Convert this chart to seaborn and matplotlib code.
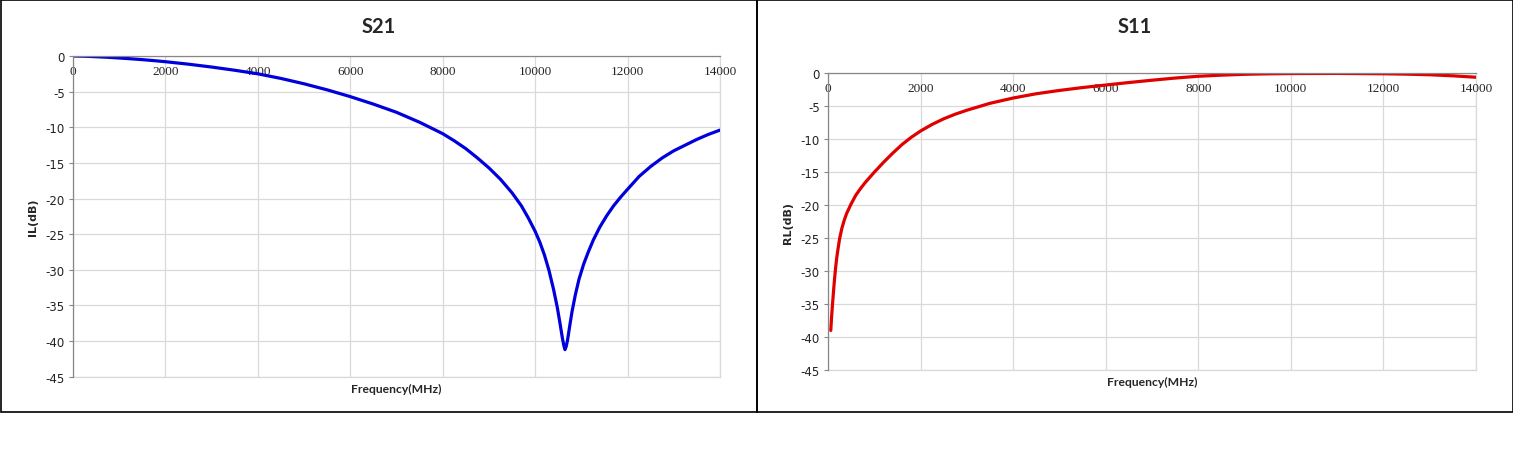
import matplotlib
matplotlib.use("Agg")
import matplotlib.pyplot as plt
import seaborn as sns
import pandas as pd
from matplotlib.patches import Rectangle

# ---- data ----
s21_freq = [0, 250, 500, 750, 1000, 1250, 1500, 1750, 2000, 2500, 3000, 3500, 4000, 4500,
            5000, 5500, 6000, 6500, 7000, 7500, 8000, 8250, 8500, 8750, 9000, 9250, 9500,
            9700, 9850, 10000, 10100, 10200, 10300, 10400, 10480, 10540, 10590, 10620,
            10645, 10670, 10700, 10750, 10800, 10870, 10950, 11050, 11150, 11260, 11400,
            11550, 11700, 11850, 12000, 12250, 12500, 12750, 13000, 13250, 13500, 13750,
            14000]
s21_db = [0, -0.03, -0.1, -0.18, -0.28, -0.39, -0.51, -0.65, -0.8, -1.15, -1.55, -2.0, -2.5,
          -3.15, -3.9, -4.75, -5.7, -6.75, -7.9, -9.3, -10.9, -11.9, -13.0, -14.3, -15.7,
          -17.3, -19.2, -21.0, -22.7, -24.6, -26.1, -27.9, -30.1, -32.8, -35.3, -37.6,
          -39.6, -40.6, -41.2, -40.8, -39.9, -37.8, -35.8, -33.5, -31.3, -29.2, -27.5,
          -25.8, -24.0, -22.4, -21.0, -19.8, -18.7, -16.9, -15.5, -14.3, -13.3, -12.5,
          -11.7, -11.0, -10.4]

s11_freq = [60, 70, 80, 100, 120, 140, 160, 180, 200, 250, 300, 350, 400, 500, 600, 700,
            800, 900, 1000, 1200, 1400, 1600, 1800, 2000, 2250, 2500, 2750, 3000, 3500,
            4000, 4500, 5000, 5500, 6000, 6500, 7000, 7500, 8000, 8500, 9000, 9500, 10000,
            11000, 12000, 12500, 13000, 13500, 14000]
s11_db = [-39.0, -37.8, -36.7, -34.8, -33.0, -31.3, -29.8, -28.5, -27.4, -25.1, -23.5,
          -22.3, -21.3, -19.8, -18.5, -17.5, -16.6, -15.8, -15.0, -13.5, -12.1, -10.8,
          -9.7, -8.75, -7.75, -6.9, -6.2, -5.6, -4.55, -3.75, -3.1, -2.6, -2.16, -1.78,
          -1.4, -1.05, -0.72, -0.45, -0.28, -0.15, -0.08, -0.04, -0.02, -0.07, -0.13,
          -0.22, -0.38, -0.6]

x_ticks = [0, 2000, 4000, 6000, 8000, 10000, 12000, 14000]
y_ticks = [0, -5, -10, -15, -20, -25, -30, -35, -40, -45]

titles = ["S21", "S11"]
ylabels = ["IL(dB)", "RL(dB)"]
xlabel = "Frequency(MHz)"

sns.set_theme(style="white")
plt.rcParams['font.family'] = ['DejaVu Sans']

W, H = 1513, 460
fig = plt.figure(figsize=(W / 100, H / 100), dpi=100)
fig.patch.set_facecolor("white")

# panel borders
for (x0, x1) in [(0.5, 757), (757, 1512.5)]:
    fig.add_artist(Rectangle((x0 / W, (H - 413) / H), (x1 - x0) / W, 412.5 / H,
                             transform=fig.transFigure, fill=False,
                             edgecolor="black", linewidth=1.2))

axes_px = [(73, 57, 720, 377.7), (828, 74.3, 1476, 371)]
panel_cx = [378.5, 1134.5]
colors = ["#0000DD", "#E00000"]
frames = [pd.DataFrame({"f": s21_freq, "db": s21_db}),
          pd.DataFrame({"f": s11_freq, "db": s11_db})]

for i, (l, t, r, b) in enumerate(axes_px):
    ax = fig.add_axes([l / W, (H - b) / H, (r - l) / W, (b - t) / H])
    sns.lineplot(data=frames[i], x="f", y="db", ax=ax, color=colors[i],
                 linewidth=2.3, estimator=None, sort=False)
    ax.lines[-1].set_solid_joinstyle("round")
    ax.lines[-1].set_solid_capstyle("round")
    ax.set_xlim(0, 14000)
    ax.set_ylim(-45, 0)
    ax.set_xticks(x_ticks)
    ax.set_yticks(y_ticks)
    ax.set_xticklabels([str(v) for v in x_ticks], family="Liberation Serif", fontsize=9.5)
    ax.set_yticklabels([str(v) for v in y_ticks], fontsize=8.5, color="#222222")
    ax.grid(True, color="#D9D9D9", linewidth=0.9)
    ax.set_axisbelow(True)
    for s in ["right", "bottom"]:
        ax.spines[s].set_color("#D9D9D9")
        ax.spines[s].set_linewidth(0.9)
        ax.spines[s].set_zorder(0.5)
    for s in ["left", "top"]:
        ax.spines[s].set_color("#868686")
        ax.spines[s].set_linewidth(0.9)
    ax.xaxis.tick_top()
    ax.tick_params(axis="x", top=True, bottom=False, labeltop=True, labelbottom=False,
                   length=0, pad=-15)
    ax.tick_params(axis="y", left=True, length=3, width=0.8, color="#868686", pad=3)
    ax.set_xlabel(xlabel, fontsize=8.7, fontweight="bold", family="Lato")
    ax.xaxis.set_label_position("bottom")
    ax.xaxis.label.set_va("center")
    ax.xaxis.set_label_coords(0.5, -11.5 / (b - t))
    ax.set_ylabel(ylabels[i], fontsize=8, fontweight="bold", family="DejaVu Sans")
    ax.yaxis.label.set_va("center")
    ax.yaxis.set_label_coords(-40 / (r - l), 0.5)
    fig.text(panel_cx[i] / W, (H - 27) / H, titles[i], ha="center", va="center",
             fontsize=14.5, fontweight="bold", family="Lato")

fig.savefig("out.png", dpi=100, facecolor="white")
